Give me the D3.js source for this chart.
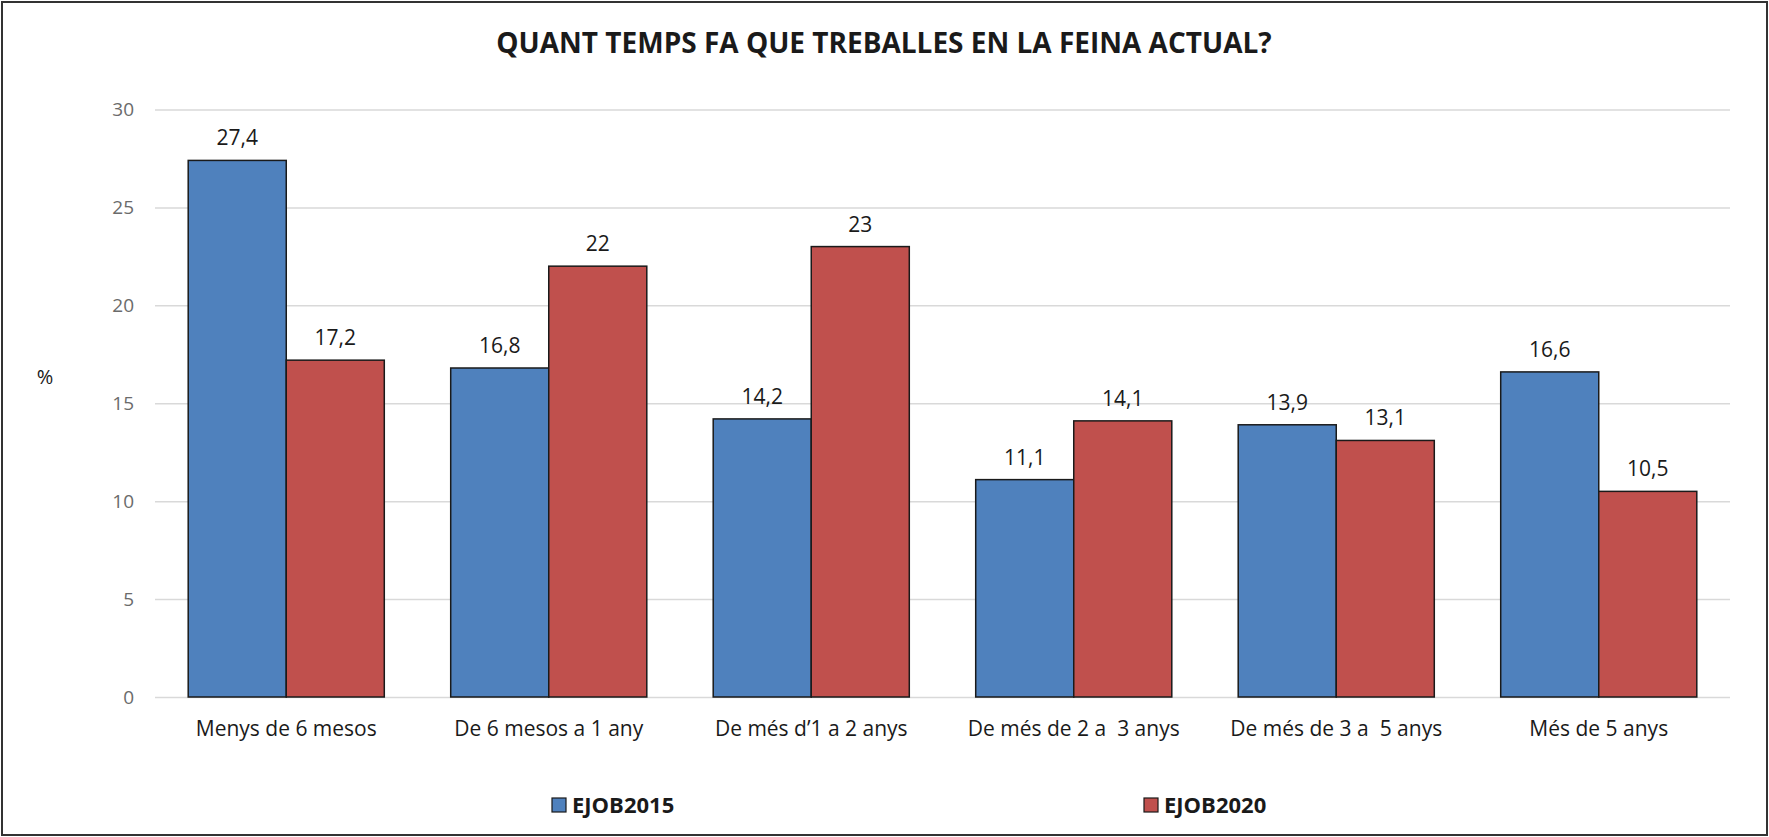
<!DOCTYPE html>
<html>
	<head>
		<meta charset="utf-8">
		<title>Quant temps fa que treballes en la feina actual?</title>
		<script src="https://d3js.org/d3.v7.min.js"></script>
		<style type="text/css">
			body { margin: 0; background: #fff; }
			text { font-family: 'Open Sans', sans-serif; }
		</style>
	</head>
	<body>
		<script type="text/javascript">

			var svgWidth = 1769;
			var svgHeight = 837;

			var categorias = ['Menys de 6 mesos', 'De 6 mesos a 1 any', 'De més d\u20191 a 2 anys',
				'De més de 2 a  3 anys', 'De més de 3 a  5 anys', 'Més de 5 anys'];
			var series = ['EJOB2015', 'EJOB2020'];
			var ejob2015 = [27.4, 16.8, 14.2, 11.1, 13.9, 16.6];
			var ejob2020 = [17.2, 22, 23, 14.1, 13.1, 10.5];
			var yTicks = [0, 5, 10, 15, 20, 25, 30];
			var colores = ['#4F81BD', '#C0504D'];

			var dataset = categorias.map(function(c, i) {
				return { cat: c, valores: [ejob2015[i], ejob2020[i]] };
			});

			var margin = { left: 155, right: 39, top: 109.5, bottom: 140 };

			//Escalas
			var xScale = d3.scaleBand()
				.domain(categorias)
				.range([margin.left, svgWidth - margin.right])
				.paddingInner(0.253)
				.paddingOuter(0.1265);

			var xSub = d3.scaleBand()
				.domain(series)
				.range([0, xScale.bandwidth()]);

			var yScale = d3.scaleLinear()
				.domain([0, 30])
				.range([svgHeight - margin.bottom, margin.top]);

			var svg = d3.select('body')
				.append('svg')
				.attr('width', svgWidth)
				.attr('height', svgHeight);

			//Marco
			svg.append('rect')
				.attr('x', 2)
				.attr('y', 2)
				.attr('width', svgWidth - 4)
				.attr('height', svgHeight - 4)
				.attr('fill', '#fff')
				.attr('stroke', '#333')
				.attr('stroke-width', 2);

			//Titulo
			svg.append('text')
				.attr('x', 884)
				.attr('y', 53)
				.attr('text-anchor', 'middle')
				.attr('font-size', '28px')
				.attr('font-weight', 'bold')
				.attr('fill', '#1a1a1a')
				.text('QUANT TEMPS FA QUE TREBALLES EN LA FEINA ACTUAL?');

			//Eje Y con lineas de rejilla
			var yAxis = d3.axisLeft(yScale)
				.tickValues(yTicks)
				.tickSize(-(svgWidth - margin.left - margin.right))
				.tickPadding(21);

			var gy = svg.append('g')
				.attr('transform', 'translate(' + margin.left + ',0)')
				.call(yAxis);
			gy.select('.domain').remove();
			gy.selectAll('line')
				.attr('stroke', '#d9d9d9')
				.attr('stroke-width', 1.5);
			gy.selectAll('text')
				.attr('fill', '#6b6b6b')
				.attr('font-size', '19px')
				.style('font-family', "'Open Sans', sans-serif");

			svg.append('text')
				.attr('x', 45)
				.attr('y', 384)
				.attr('text-anchor', 'middle')
				.attr('font-size', '20px')
				.attr('fill', '#1a1a1a')
				.text('%');

			//Barras
			var grupos = svg.selectAll('g.grupo')
				.data(dataset)
				.enter()
				.append('g')
				.attr('class', 'grupo')
				.attr('transform', function(d) {
					return 'translate(' + xScale(d.cat) + ',0)';
				});

			grupos.selectAll('rect')
				.data(function(d) {
					return d.valores.map(function(v, i) { return { serie: series[i], v: v, i: i }; });
				})
				.enter()
				.append('rect')
				.attr('x', function(d) { return xSub(d.serie); })
				.attr('y', function(d) { return yScale(d.v); })
				.attr('width', xSub.bandwidth())
				.attr('height', function(d) { return yScale(0) - yScale(d.v); })
				.attr('fill', function(d) { return colores[d.i]; })
				.attr('stroke', '#1a1a1a')
				.attr('stroke-width', 1.5);

			grupos.selectAll('text.valor')
				.data(function(d) {
					return d.valores.map(function(v, i) { return { serie: series[i], v: v }; });
				})
				.enter()
				.append('text')
				.attr('class', 'valor')
				.attr('x', function(d) { return xSub(d.serie) + xSub.bandwidth() / 2; })
				.attr('y', function(d) { return yScale(d.v) - 15; })
				.attr('text-anchor', 'middle')
				.attr('font-size', '21px')
				.attr('fill', '#1a1a1a')
				.text(function(d) { return String(d.v).replace('.', ','); });

			//Eje X
			var gx = svg.append('g')
				.attr('transform', 'translate(0,' + yScale(0) + ')')
				.call(d3.axisBottom(xScale).tickSize(0).tickPadding(24));
			gx.select('.domain').remove();
			gx.selectAll('text')
				.attr('fill', '#1a1a1a')
				.attr('font-size', '21px')
				.style('font-family', "'Open Sans', sans-serif")
				.style('white-space', 'pre');

			//Leyenda
			var leyendaX = [552, 1144];
			var leyenda = svg.selectAll('g.leyenda')
				.data(series)
				.enter()
				.append('g')
				.attr('class', 'leyenda')
				.attr('transform', function(d, i) {
					return 'translate(' + leyendaX[i] + ',798)';
				});

			leyenda.append('rect')
				.attr('width', 14)
				.attr('height', 14)
				.attr('fill', function(d, i) { return colores[i]; })
				.attr('stroke', '#1a1a1a')
				.attr('stroke-width', 1.2);

			leyenda.append('text')
				.attr('x', 20)
				.attr('y', 15)
				.attr('font-size', '22px')
				.attr('font-weight', 'bold')
				.attr('fill', '#1a1a1a')
				.text(function(d) { return d; });

		</script>
	</body>
</html>
